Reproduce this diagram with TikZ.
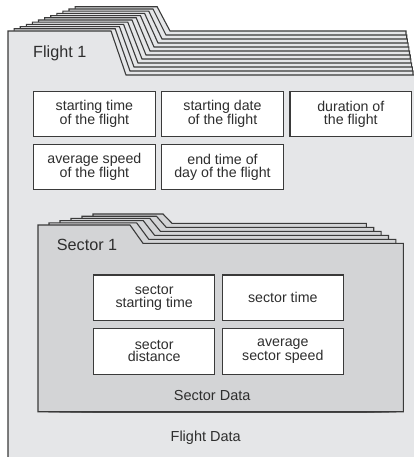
\documentclass[tikz,border=0pt]{standalone}
\usepackage{fontspec}
\setmainfont{Liberation Sans}
\definecolor{flightfill}{HTML}{E5E6E8}
\definecolor{sectorfill}{HTML}{D3D4D6}
\definecolor{linecol}{HTML}{3A3A3A}
\definecolor{txtcol}{HTML}{2E2E2E}
\tikzset{
  flightfolder/.style={fill=flightfill, draw=linecol, line width=1.1pt, line join=miter},
  sectorfolder/.style={fill=sectorfill, draw=linecol, line width=1.1pt, line join=miter},
  databox/.style={draw=linecol, fill=white, line width=1.2pt, inner sep=0pt,
     align=center, text=txtcol, font=\fontsize{14.2}{12.3}\selectfont},
  flightbox/.style={databox, minimum width=121.7pt, minimum height=45pt},
  sectorbox/.style={databox, minimum width=121pt, minimum height=45.8pt},
  biglabel/.style={text=txtcol, inner sep=0pt, font=\fontsize{16.2}{18}\selectfont},
  smalllabel/.style={text=txtcol, inner sep=0pt, font=\fontsize{14.5}{16}\selectfont}
}
\begin{document}
\begin{tikzpicture}[x=1pt,y=-1pt]
\useasboundingbox (0,0) rectangle (414,457);
\begin{scope}
\clip (0,0) rectangle (414,457);
% flight folder stack (back to front)
\foreach \i in {11,10,...,0}{
  \pgfmathsetmacro\lx{8+6.1*\i}
  \pgfmathsetmacro\ty{31-2.2*\i}
  \pgfmathsetmacro\tx{111+4.2*\i}
  \pgfmathsetmacro\sx{126+4*\i}
  \pgfmathsetmacro\sy{75-4*\i}
  \pgfmathsetmacro\rx{\i==0 ? 440 : 413-0.7*(\i-1)}
  \path[flightfolder] (\lx,\ty) -- (\tx,\ty) -- (\sx,\sy) -- (\rx,\sy) -- (\rx,480) -- (\lx,480) -- cycle;
}
\end{scope}
\node[biglabel, anchor=base west] (flightlabel) at (33,57.3) {Flight 1};

\node[flightbox] (fa) at (94.4,114.2) {starting time\\of the flight};
\node[flightbox] (fb) at (222.5,114.2) {starting date\\of the flight};
\node[flightbox] (fc) at (350.8,114.2) {duration of\\the flight};
\node[flightbox] (fd) at (94.4,167.2) {average speed\\of the flight};
\node[flightbox] (fe) at (222.5,167.2) {end time of\\day of the flight};

% sector folder stack (back to front)
\foreach \i in {5,4,...,0}{
  \pgfmathsetmacro\lx{38+11*\i}
  \pgfmathsetmacro\ty{225-2.2*\i}
  \pgfmathsetmacro\tx{130+6.6*\i}
  \pgfmathsetmacro\sx{143+5.8*\i}
  \pgfmathsetmacro\sy{243.3-4*\i}
  \pgfmathsetmacro\rx{403.3-7.4*\i}
  \path[sectorfolder] (\lx,\ty) -- (\tx,\ty) -- (\sx,\sy) -- (\rx,\sy) -- (\rx,411.7) -- (\lx,411.7) -- cycle;
}
\node[biglabel, anchor=base west] (sectorlabel) at (56.7,250) {Sector 1};

\node[sectorbox] (sa) at (154.2,297.8) {sector\\starting time};
\node[sectorbox] (sb) at (282.8,297.8) {sector time};
\node[sectorbox] (sc) at (154.2,351.3) {sector\\distance};
\node[sectorbox] (sd) at (282.8,351.3) {average\\sector speed};

\node[smalllabel, anchor=base] (sectordata) at (212.2,400.7) {Sector Data};
\node[smalllabel, anchor=base] (flightdata) at (205.7,441.7) {Flight Data};
\end{tikzpicture}
\end{document}
